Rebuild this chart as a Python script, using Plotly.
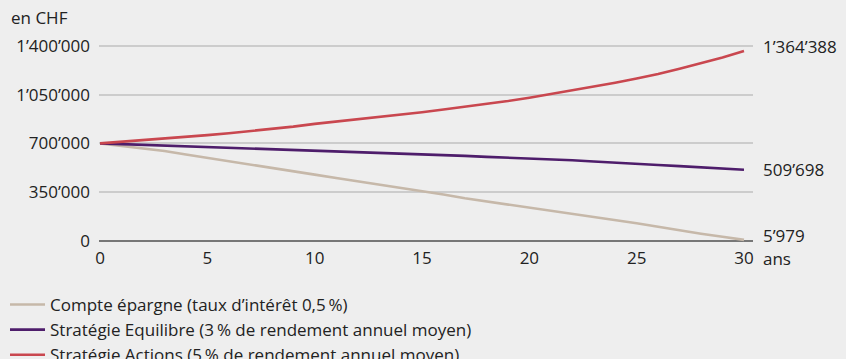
import plotly.graph_objects as go

years = list(range(0, 31))

epargne = [700000, 683000, 666000, 645000, 620000, 595000, 572000, 545000, 522000, 498000,
           475000, 451000, 428000, 405000, 380000, 355000, 332000, 305000, 283000, 260000,
           238000, 216000, 195000, 173000, 148000, 125000, 100000, 73000, 50000, 28000, 5979]

equilibre = [700000, 695000, 689000, 684000, 678000, 673000, 668000, 663000, 658000, 653000,
             648000, 643000, 638000, 633000, 628000, 623000, 618000, 610000, 603000, 598000,
             592000, 586000, 578000, 570000, 563000, 553000, 544000, 536000, 527000, 517000, 509698]

actions = [700000, 711000, 722000, 734000, 746000, 759000, 773000, 788000, 804000, 820000,
           840000, 856000, 872000, 889000, 906000, 924000, 943000, 962000, 982000, 1004000,
           1028000, 1054000, 1080000, 1108000, 1136000, 1166000, 1198000, 1236000, 1275000, 1318000, 1364388]

names = ["Compte épargne (taux d’intérêt 0,5\u2009%)",
         "Stratégie Equilibre (3\u2009% de rendement annuel moyen)",
         "Stratégie Actions (5\u2009% de rendement annuel moyen)"]
colors = ["#C6B8A9", "#4E1D6B", "#C9474F"]
series = [epargne, equilibre, actions]

y_ticks = [0, 350000, 700000, 1050000, 1400000]
y_tick_labels = ["0", "350’000", "700’000", "1’050’000", "1’400’000"]
x_ticks = [0, 5, 10, 15, 20, 25, 30]
end_labels = ["5’979", "509’698", "1’364’388"]
end_label_y = [5979, 509698, 1400000]

FONT = "Open Sans"
FS = 17
TXT = "#222222"

fig = go.Figure()
for i, (nm, col, s) in enumerate(zip(names, colors, series)):
    fig.add_trace(go.Scatter(x=years, y=s, mode="lines", name=nm,
                             line=dict(color=col, width=2.6)))

for lbl, yv in zip(end_labels, end_label_y):
    fig.add_annotation(x=30, y=yv, xref="x", yref="y", text=lbl, showarrow=False,
                       xanchor="left", yanchor="middle", xshift=17,
                       yshift=(4 if yv < 100000 else 0),
                       font=dict(family=FONT, size=FS, color=TXT))

fig.add_annotation(x=30, y=0, xref="x", yref="y", text="ans", showarrow=False,
                   xanchor="left", yanchor="top", xshift=17, yshift=-4,
                   font=dict(family=FONT, size=FS, color=TXT))

fig.add_annotation(x=-90 / 654, y=1.0, xref="paper", yref="paper", text="en CHF",
                   showarrow=False, xanchor="left", yanchor="bottom", yshift=13,
                   font=dict(family=FONT, size=FS, color=TXT))

fig.update_layout(
    width=846, height=359,
    margin=dict(l=99, r=93, t=44, b=116, autoexpand=False),
    paper_bgcolor="#EEEEEE", plot_bgcolor="#EEEEEE",
    font=dict(family=FONT, size=FS, color=TXT),
    showlegend=True,
    legend=dict(x=-94 / 654, y=-44 / 199,
                xanchor="left", yanchor="top", bgcolor="rgba(0,0,0,0)",
                traceorder="normal",
                font=dict(family=FONT, size=FS, color=TXT), itemwidth=35),
    xaxis=dict(range=[-0.05, 30.42], tickvals=x_ticks, showgrid=False, zeroline=False,
               showline=False, ticks="", ticklabelstandoff=3,
               tickfont=dict(family=FONT, size=FS, color=TXT)),
    yaxis=dict(range=[-16538, 1414381], tickvals=y_ticks, ticktext=y_tick_labels,
               showgrid=True, gridcolor="#CCCCCC", gridwidth=1.5,
               zeroline=True, zerolinecolor="#777777", zerolinewidth=2.2,
               showline=False, ticks="", ticklabelstandoff=8,
               tickfont=dict(family=FONT, size=FS, color=TXT)),
)

fig.write_html("out.html")
